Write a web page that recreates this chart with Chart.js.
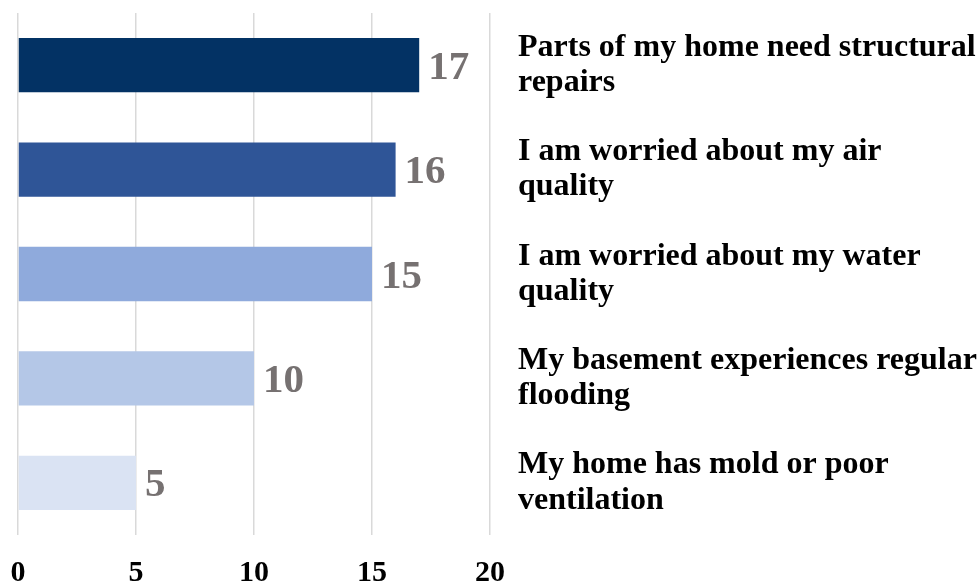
<!DOCTYPE html>
<html>
<head>
<meta charset="utf-8">
<script src="https://cdn.jsdelivr.net/npm/chart.js@4/dist/chart.umd.min.js"></script>
<style>
  html, body { margin: 0; padding: 0; background: #fff; overflow: hidden; }
  #wrap { width: 980px; height: 586px; }
</style>
</head>
<body>
<div id="wrap"><canvas id="chart" width="980" height="586"></canvas></div>
<script>
// Category labels (wrapped the way the original shows them)
const categories = [
  ["Parts of my home need structural", "repairs"],
  ["I am worried about my air", "quality"],
  ["I am worried about my water", "quality"],
  ["My basement experiences regular", "flooding"],
  ["My home has mold or poor", "ventilation"],
]
const counts = [17, 16, 15, 10, 5]
const xTicks = [0, 5, 10, 15, 20]

const barColors = ["#033264", "#2F5597", "#8FAADC", "#B4C7E7", "#DAE3F3"]
const serif = "'Liberation Serif', 'Times New Roman', serif"

// Draw the value at the end of each bar
const valueLabels = {
  id: "valueLabels",
  afterDatasetsDraw(chart) {
    const ctx = chart.ctx
    const meta = chart.getDatasetMeta(0)
    ctx.save()
    ctx.font = "bold 41px " + serif
    ctx.fillStyle = "#767171"
    ctx.textAlign = "left"
    ctx.textBaseline = "middle"
    meta.data.forEach((bar, i) => {
      ctx.fillText(String(counts[i]), bar.x + 9, bar.y + 3)
    })
    ctx.restore()
  },
}

new Chart(document.getElementById("chart").getContext("2d"), {
  type: "bar",
  data: {
    labels: categories,
    datasets: [
      {
        data: counts,
        backgroundColor: barColors,
        borderWidth: 0,
        barPercentage: 0.52,
        categoryPercentage: 1,
      },
    ],
  },
  options: {
    indexAxis: "y",
    responsive: false,
    animation: false,
    layout: { padding: { top: 13, left: 18, right: 0, bottom: 0 } },
    plugins: {
      legend: { display: false },
      tooltip: { enabled: false },
    },
    scales: {
      x: {
        min: 0,
        max: 20,
        afterBuildTicks: (axis) => {
          axis.ticks = xTicks.map((v) => ({ value: v }))
        },
        grid: { color: "#D9D9D9", lineWidth: 1.5, drawTicks: false },
        border: { display: false },
        ticks: {
          padding: 20,
          color: "#000",
          font: { family: serif, size: 30, weight: "bold" },
        },
        afterFit: (axis) => {
          axis.height = 51
          axis.paddingLeft = 0
          axis.paddingRight = 0
        },
      },
      y: {
        position: "right",
        grid: { display: false, drawTicks: false },
        border: { display: false },
        ticks: {
          padding: 28,
          color: "#000",
          font: { family: serif, size: 32, weight: "bold", lineHeight: 1.1 },
        },
        afterFit: (axis) => {
          axis.width = 490
          axis.paddingTop = 0
          axis.paddingBottom = 0
        },
      },
    },
  },
  plugins: [valueLabels],
})
</script>
</body>
</html>
